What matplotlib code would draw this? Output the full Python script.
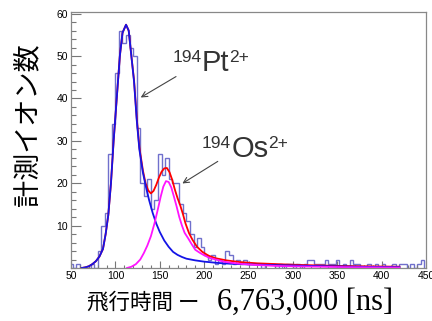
import numpy as np
import matplotlib
matplotlib.use('Agg')
import matplotlib.pyplot as plt
from matplotlib.ticker import MultipleLocator
from matplotlib.transforms import offset_copy

## Histogram: time of flight - 6,763,000 ns, 4 ns bins starting at 48
bin_start = 48
bin_width = 4
counts = [1, 0, 1, 0, 0, 0, 1, 0, 4, 10,
          13, 27, 34, 46, 56, 53, 55, 52, 50, 33,
          20, 17, 21, 14, 16, 27, 22, 26, 21, 20,
          20, 15, 13, 11, 8, 5, 7, 5, 3, 2,
          3, 1, 2, 1, 4, 3, 1, 2, 1, 2,
          1, 1, 1, 1, 0, 1, 1, 1, 0, 1,
          0, 1, 1, 0, 1, 0, 1, 2, 2, 1,
          1, 1, 2, 1, 1, 2, 0, 1, 0, 2,
          1, 1, 0, 0, 1, 0, 1, 0, 1, 0,
          0, 1, 0, 1, 1, 0, 1, 0, 1, 2]

## Fit curves
pt_x = [62, 66, 70, 74, 78, 82, 86, 89, 92, 95, 98, 101.5, 105, 108, 112, 115, 118, 121,
        124, 127, 131, 134, 138, 142, 146, 150, 155, 160, 165, 170, 175, 180, 190, 200,
        215, 230, 250, 275, 300, 330, 360, 390, 420]
pt_y = [0, 0.15, 0.4, 0.9, 1.6, 2.7, 4.5, 8, 12.5, 20, 30, 40, 50, 55.5, 57.4, 56, 50, 44,
        35, 28, 22.5, 19.5, 16, 13, 10.5, 8.5, 6.5, 5, 3.8, 3.1, 2.6, 2.2, 1.8, 1.5,
        1.2, 1.0, 0.85, 0.7, 0.6, 0.45, 0.35, 0.25, 0.2]

os_x = [113, 118, 123, 128, 132, 136, 140, 144, 148, 151, 154, 157, 160, 163, 166, 169,
        172, 175, 178, 182, 186, 190, 195, 200, 206, 213, 222, 232, 245, 260, 280, 300,
        330, 360, 390, 420]
os_y = [0, 0.3, 0.9, 2.0, 3.5, 5.3, 7.5, 10.5, 14, 16.8, 19.2, 20.5, 20.3, 19, 16.8, 14.5,
        12, 10, 8.3, 7.0, 5.6, 4.3, 3.6, 3.0, 2.4, 2.0, 1.5, 1.2, 0.9, 0.7, 0.5, 0.4,
        0.3, 0.2, 0.15, 0.1]

tot_x = [62, 66, 70, 74, 78, 82, 86, 89, 92, 95, 98, 101.5, 105, 108, 112, 115, 118, 121,
         124, 127, 131, 134, 137, 140, 143, 146, 149, 152, 155, 158, 161, 164, 167, 170,
         173, 176, 179, 183, 187, 192, 198, 205, 213, 225, 240, 260, 290, 320, 350, 380, 420]
tot_y = [0, 0.15, 0.4, 0.9, 1.6, 2.7, 4.5, 8, 12.5, 20, 30, 40, 50, 55.5, 57.4, 56, 50, 44.3,
         35.5, 28.5, 23, 20, 18.3, 17.6, 18.2, 19.6, 21.3, 22.7, 23.5, 23.6, 22.6, 20.8, 18.5, 16.5,
         14.8, 12.8, 10.5, 8.2, 6.6, 5.0, 3.8, 2.9, 2.3, 1.8, 1.4, 1.1, 0.85, 0.65, 0.5, 0.4, 0.3]

x_ticks = [50, 100, 150, 200, 250, 300, 350, 400, 450]
y_ticks = [10, 20, 30, 40, 50, 60]

edges = bin_start + bin_width * np.arange(len(counts) + 1)

fig = plt.figure(figsize=(4.32, 3.21), dpi=100)
ax = fig.add_axes([0.1644, 0.1651, 0.8218, 0.7975])

ax.stairs(counts, edges, color='#7070cc', lw=1.0)
ax.plot(tot_x, tot_y, color='#ff0000', lw=1.3)
ax.plot(pt_x, pt_y, color='#1414e6', lw=1.3)
ax.plot(os_x, os_y, color='#ff14ff', lw=1.3)

ax.set_xlim(50, 450)
ax.set_ylim(0, 60.4)
ax.set_xticks(x_ticks)
ax.set_yticks(y_ticks)
ax.xaxis.set_minor_locator(MultipleLocator(10))
ax.yaxis.set_minor_locator(MultipleLocator(2))
ax.tick_params(axis='y', which='major', direction='in', length=7, width=0.8,
               color='#777777', pad=2, labelsize=7.5)
ax.tick_params(axis='y', which='minor', direction='in', length=3.5, width=0.8, color='#777777')
ax.tick_params(axis='x', which='major', direction='in', length=5, width=0.8,
               color='#777777', pad=2, labelsize=7.5)
ax.tick_params(axis='x', which='minor', direction='in', length=2.5, width=0.8, color='#777777')
for lab in ax.get_xticklabels() + ax.get_yticklabels():
    lab.set_family('Liberation Sans')
for sp in ax.spines.values():
    sp.set_color('#888888')
    sp.set_linewidth(0.9)

## isotope labels: small mass number, big symbol, small charge
renderer = fig.canvas.get_renderer()

def isotope(x, y, mass, sym, charge, big=21, small=12.5, rise=6.5):
    kw = dict(family='Liberation Sans', color='#333333', ha='left', va='baseline')
    t1 = ax.text(x, y, mass, fontsize=small,
                 transform=offset_copy(ax.transData, fig=fig, x=0, y=rise, units='points'), **kw)
    w1 = t1.get_window_extent(renderer).width
    t2 = ax.text(x, y, sym, fontsize=big,
                 transform=offset_copy(ax.transData, fig=fig, x=w1, y=0, units='dots'), **kw)
    w2 = t2.get_window_extent(renderer).width
    ax.text(x, y, charge, fontsize=small,
            transform=offset_copy(ax.transData, fig=fig, x=w1 + w2, y=rise * fig.dpi / 72,
                                  units='dots'), **kw)

isotope(164.9, 46.5, '194', 'Pt', '2+')
ax.annotate('', xy=(125.8, 39.9), xytext=(171, 45.5),
            arrowprops=dict(arrowstyle='->', color='#444444', lw=0.8, mutation_scale=10))
isotope(197.6, 26.2, '194', 'Os', '2+')
ax.annotate('', xy=(172.8, 19.6), xytext=(218, 25.5),
            arrowprops=dict(arrowstyle='->', color='#444444', lw=0.8, mutation_scale=10))

## axis titles
fig.text(0.0637, 0.611, '計測イオン数', rotation=90, ha='center', va='center',
         family=['Noto Sans CJK JP', 'DejaVu Sans'], fontsize=19.5)
fig.text(87 / 432, 0.0576, '飛行時間 ー', ha='left', va='center',
         family=['Noto Sans CJK JP', 'DejaVu Sans'], fontsize=15.5)
fig.text(217 / 432, 0.0576, '6,763,000 [ns]', ha='left', va='center',
         family=['Liberation Serif', 'DejaVu Serif'], fontsize=22)

fig.savefig('out.png', dpi=100)
